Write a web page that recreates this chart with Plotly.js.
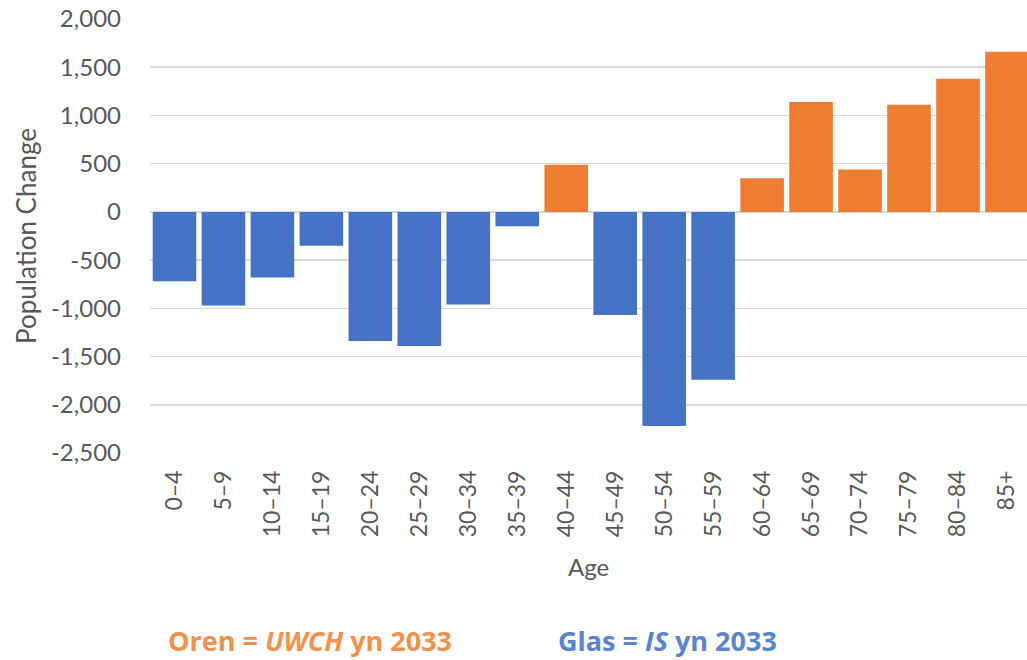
<!DOCTYPE html>
<html>
<head>
<meta charset="utf-8">
<script src="https://cdn.plot.ly/plotly-3.0.1.min.js"></script>
<style>html,body{margin:0;padding:0;background:#fff;}#chart{width:1027px;height:660px;}</style>
</head>
<body>
<div id="chart"></div>
<script>
const ageGroups = ["0–4","5–9","10–14","15–19","20–24","25–29","30–34","35–39","40–44","45–49","50–54","55–59","60–64","65–69","70–74","75–79","80–84","85+"];
const populationChange = [-720,-970,-680,-350,-1340,-1390,-960,-150,490,-1070,-2220,-1740,350,1140,440,1110,1380,1660];
const yTickValues = [2000,1500,1000,500,0,-500,-1000,-1500,-2000,-2500];
const yTickLabels = ["2,000","1,500","1,000","500","0","-500","-1,000","-1,500","-2,000","-2,500"];

const ORANGE = "#ED7D31", BLUE = "#4472C4";
const colors = populationChange.map(v => v >= 0 ? ORANGE : BLUE);

const trace = {
  type: "bar",
  x: ageGroups,
  y: populationChange,
  marker: {color: colors, line: {width: 0}},
  hoverinfo: "x+y"
};

const fontFam = "Lato, 'Open Sans', sans-serif";
const layout = {
  width: 1027, height: 660,
  margin: {l: 150, r: 0, t: 19, b: 207, pad: 0},
  paper_bgcolor: "#fff", plot_bgcolor: "#fff",
  bargap: 0.11,
  showlegend: false,
  font: {family: fontFam, color: "#595959", size: 23},
  xaxis: {
    type: "category",
    range: [-0.5, 17.41],
    tickangle: -90,
    ticks: "",
    showgrid: false,
    showline: false,
    zeroline: false,
    ticklabelstandoff: 12,
    tickfont: {size: 23, color: "#595959", family: fontFam},
    title: {text: "Age", font: {size: 24, color: "#595959", family: fontFam}, standoff: 22}
  },
  yaxis: {
    range: [-2500, 2000],
    tickvals: yTickValues,
    ticktext: yTickLabels,
    ticks: "",
    showline: false,
    gridcolor: "#D9D9D9",
    gridwidth: 1.5,
    zeroline: true,
    zerolinecolor: "#D9D9D9",
    zerolinewidth: 1.5,
    ticklabelstandoff: 28,
    tickfont: {size: 24, color: "#595959", family: fontFam},
    title: {text: "Population Change", font: {size: 26, color: "#595959", family: fontFam}, standoff: 6}
  },
  annotations: [
    {xref: "paper", yref: "paper", x: 0.018, y: -0.432, xanchor: "left", yanchor: "middle",
     showarrow: false, text: "<b>Oren = <i>UWCH</i> yn 2033</b>",
     font: {size: 27, color: "#F0914E", family: "'Open Sans', Lato, sans-serif"}},
    {xref: "paper", yref: "paper", x: 0.463, y: -0.432, xanchor: "left", yanchor: "middle",
     showarrow: false, text: "<b>Glas = <i>IS</i> yn 2033</b>",
     font: {size: 27, color: "#5B84CF", family: "'Open Sans', Lato, sans-serif"}}
  ]
};

Plotly.newPlot("chart", [trace], layout, {displayModeBar: false, staticPlot: true});
</script>
</body>
</html>
